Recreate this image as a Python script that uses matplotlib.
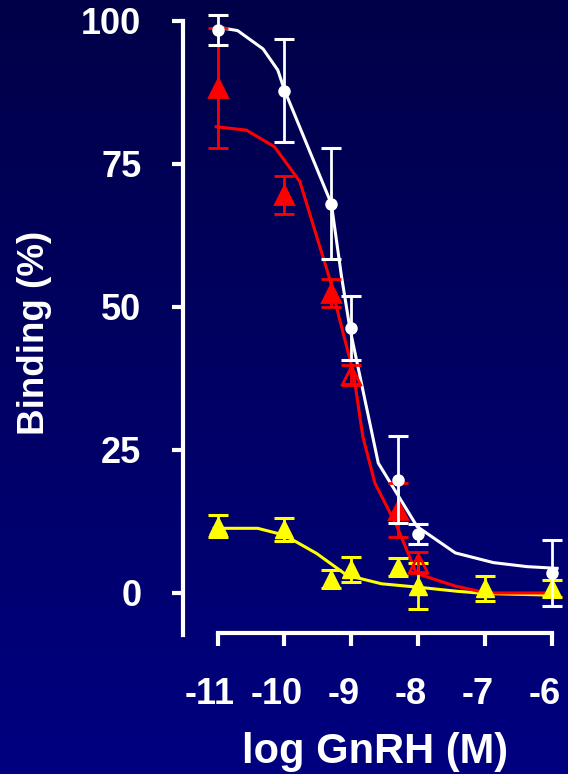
import numpy as np
import matplotlib.pyplot as plt
import matplotlib.transforms as mtransforms
from matplotlib.colors import LinearSegmentedColormap

plt.rcParams['font.family'] = ['Liberation Sans', 'DejaVu Sans']
plt.rcParams['font.weight'] = 'bold'

# ---------------------------------------------------------
# datos (log GnRH en M, binding en %)
# ---------------------------------------------------------

# serie blanca (circulos)
x_blanco = [-11, -10, -9.3, -9.0, -8.3, -8.0, -6.0]
y_blanco = [98.4, 87.8, 68.0, 46.3, 19.8, 10.3, 3.5]
e_blanco = [2.6, 9.0, 9.7, 5.6, 7.6, 1.8, 5.8]

# serie roja (triangulos)
x_rojo = [-11, -10, -9.3, -9.0, -8.3, -8.0]
y_rojo = [88.3, 69.6, 52.4, 38.1, 14.5, 5.3]
e_rojo = [10.5, 3.3, 2.5, 1.7, 4.7, 1.8]
rojo_hueco = [False, False, False, True, False, True]

# serie amarilla (triangulos)
x_amarillo = [-11, -10, -9.3, -9.0, -8.3, -8.0, -7.0, -6.0]
y_amarillo = [11.7, 11.1, 2.4, 4.1, 4.5, 1.2, 0.8, 0.8]
e_amarillo = [2.0, 2.0, 1.6, 2.2, 1.6, 4.0, 2.2, 1.5]

# curvas de ajuste
xc_blanco = [-11.0, -10.7, -10.32, -10.1, -10.0, -9.3, -9.15, -9.02, -8.6, -8.02, -7.45, -6.88, -6.38, -5.93]
yc_blanco = [98.9, 98.3, 95.1, 91.4, 87.9, 68.0, 55.4, 46.0, 22.7, 11.6, 7.0, 5.3, 4.6, 4.3]

xc_rojo = [-11.02, -10.57, -10.15, -9.77, -9.32, -9.2, -8.97, -8.83, -8.65, -8.32, -8.03, -7.45, -6.98, -5.93]
yc_rojo = [81.5, 80.9, 78.0, 71.9, 54.7, 48.9, 38.4, 27.3, 19.2, 11.6, 3.4, 1.2, 0.0, 0.0]

xc_amarillo = [-11.05, -10.4, -10.0, -9.52, -9.07, -8.55, -8.0, -7.43, -7.0, -5.93]
yc_amarillo = [11.3, 11.3, 10.1, 6.9, 3.1, 1.6, 1.0, 0.3, -0.1, -0.4]

ticks_x = [-11, -10, -9, -8, -7, -6]
ticks_y = [0, 25, 50, 75, 100]

# ---------------------------------------------------------
# figura con fondo degradado
# ---------------------------------------------------------
fig = plt.figure(figsize=(5.68, 7.74), dpi=100)

fondo = fig.add_axes([0, 0, 1, 1], zorder=-10)
cmap = LinearSegmentedColormap.from_list('azul', ['#000048', '#000080'])
fondo.imshow(np.linspace(0, 1, 256).reshape(-1, 1), aspect='auto', cmap=cmap,
             extent=[0, 1, 0, 1])
fondo.axis('off')

ax = fig.add_axes([183 / 568, 1 - 633 / 774, 385 / 568, 623 / 774])
ax.patch.set_alpha(0)

ax.plot(xc_amarillo, yc_amarillo, color='#ffff00', lw=2.2, zorder=2)
ax.plot(xc_rojo, yc_rojo, color='#ff0000', lw=2.2, zorder=3)
ax.plot(xc_blanco, yc_blanco, color='white', lw=2.2, zorder=4)

ax.errorbar(x_amarillo, y_amarillo, yerr=e_amarillo, fmt='^', color='#ffff00',
            ms=13, elinewidth=2, capsize=7, capthick=2.2, zorder=5, clip_on=False)

for xi, yi, ei, hueco in zip(x_rojo, y_rojo, e_rojo, rojo_hueco):
    ax.errorbar([xi], [yi], yerr=[ei], fmt='^', color='#ff0000', ms=13,
                mfc='none' if hueco else '#ff0000', mew=2,
                elinewidth=2, capsize=7, capthick=2.2, zorder=6, clip_on=False)

ax.errorbar(x_blanco, y_blanco, yerr=e_blanco, fmt='o', color='white',
            ms=8, elinewidth=2, capsize=7, capthick=2.2, zorder=7, clip_on=False)

ax.set_xlim(-11.515, -5.768)
ax.set_ylim(-7.0, 101.9)

for s in ['top', 'right']:
    ax.spines[s].set_visible(False)
for s in ['left', 'bottom']:
    ax.spines[s].set_color('white')
    ax.spines[s].set_linewidth(3)
ax.spines['bottom'].set_bounds(-11, -6)
ax.spines['left'].set_bounds(-7.3, 100)
ax.spines['left'].set_capstyle('projecting')

ax.set_xticks(ticks_x)
ax.set_xticklabels([str(t) for t in ticks_x])
ax.set_yticks(ticks_y)
ax.tick_params(axis='both', colors='white', width=3, labelsize=26)
ax.tick_params(axis='x', length=9, pad=23)
ax.tick_params(axis='y', length=8, pad=22)

desplazo = mtransforms.ScaledTranslation(-0.08, 0, fig.dpi_scale_trans)
for lab in ax.get_xticklabels():
    lab.set_transform(lab.get_transform() + desplazo)

ax.set_xlabel('log GnRH (M)', color='white', fontsize=30, fontweight='bold', labelpad=14)
ax.set_ylabel('Binding (%)', color='white', fontsize=26.5, fontweight='bold')
ax.yaxis.set_label_coords(-0.340, 0.4815)

fig.savefig('out.png', dpi=100)
